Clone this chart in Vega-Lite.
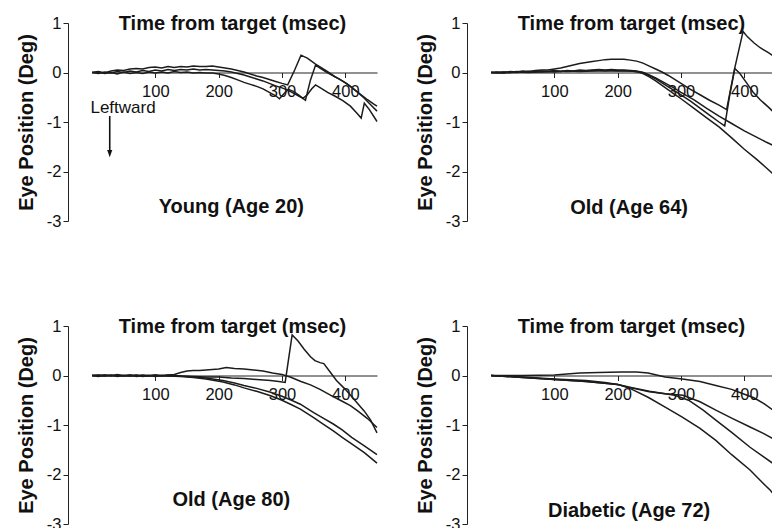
{
  "$schema": "https://vega.github.io/schema/vega-lite/v6.json",
  "background": "white",
  "padding": {"left": 16, "top": 13, "right": 0, "bottom": 0},
  "bounds": "flush",
  "columns": 2,
  "spacing": {"row": 105, "column": 114},
  "config": {
    "view": {"stroke": null},
    "font": "Liberation Sans",
    "axisX": {
      "offset": -148.5, "grid": false, "domainColor": "#222", "tickColor": "#222", "tickSize": 5,
      "labelFontSize": 16.5, "labelPadding": 6, "labelColor": "#111", "labelFont": "Liberation Sans",
      "titleY": -43, "titleX": 140, "titleBaseline": "alphabetic",
      "titleAlign": "center", "titleFontSize": 20, "titleFontWeight": "bold", "titleColor": "#111", "titleFont": "Liberation Sans"
    },
    "axisY": {
      "offset": 24, "grid": false, "domainColor": "#222", "tickColor": "#222", "tickSize": 5,
      "labelFontSize": 16.5, "labelPadding": 2, "labelColor": "#111", "labelFont": "Liberation Sans",
      "titlePadding": 10, "titleFontSize": 20, "titleFontWeight": "bold", "titleColor": "#111", "titleFont": "Liberation Sans"
    }
  },
  "datasets": {
    "labels": [
      {"p": "A", "label": "Young (Age 20)"},
      {"p": "B", "label": "Old (Age 64)"},
      {"p": "C", "label": "Old (Age 80)"},
      {"p": "D", "label": "Diabetic (Age 72)"},
      {"p": "A", "label": "Leftward"}
    ],
    "traces": [
      {"p":"A","s":1,"t":0,"v":0},{"p":"A","s":1,"t":10,"v":0.02},{"p":"A","s":1,"t":20,"v":-0.01},{"p":"A","s":1,"t":30,"v":0.03},{"p":"A","s":1,"t":40,"v":0.05},{"p":"A","s":1,"t":50,"v":0.04},{"p":"A","s":1,"t":60,"v":0.07},{"p":"A","s":1,"t":70,"v":0.08},{"p":"A","s":1,"t":80,"v":0.07},{"p":"A","s":1,"t":90,"v":0.1},{"p":"A","s":1,"t":100,"v":0.11},{"p":"A","s":1,"t":110,"v":0.09},{"p":"A","s":1,"t":120,"v":0.12},{"p":"A","s":1,"t":130,"v":0.1},{"p":"A","s":1,"t":140,"v":0.12},{"p":"A","s":1,"t":150,"v":0.11},{"p":"A","s":1,"t":160,"v":0.13},{"p":"A","s":1,"t":170,"v":0.12},{"p":"A","s":1,"t":180,"v":0.12},{"p":"A","s":1,"t":190,"v":0.13},{"p":"A","s":1,"t":200,"v":0.11},{"p":"A","s":1,"t":210,"v":0.09},{"p":"A","s":1,"t":220,"v":0.07},{"p":"A","s":1,"t":230,"v":0.04},{"p":"A","s":1,"t":240,"v":0.01},{"p":"A","s":1,"t":250,"v":-0.03},{"p":"A","s":1,"t":260,"v":-0.07},{"p":"A","s":1,"t":270,"v":-0.1},{"p":"A","s":1,"t":280,"v":-0.14},{"p":"A","s":1,"t":290,"v":-0.18},{"p":"A","s":1,"t":300,"v":-0.22},{"p":"A","s":1,"t":309,"v":-0.25},{"p":"A","s":1,"t":320,"v":0.05},{"p":"A","s":1,"t":330,"v":0.35},{"p":"A","s":1,"t":340,"v":0.29},{"p":"A","s":1,"t":353,"v":0.17},{"p":"A","s":1,"t":362,"v":0.1},{"p":"A","s":1,"t":372,"v":0.02},{"p":"A","s":1,"t":384,"v":-0.09},{"p":"A","s":1,"t":394,"v":-0.16},{"p":"A","s":1,"t":403,"v":-0.23},{"p":"A","s":1,"t":413,"v":-0.33},{"p":"A","s":1,"t":424,"v":-0.44},{"p":"A","s":1,"t":435,"v":-0.55},{"p":"A","s":1,"t":445,"v":-0.64},{"p":"A","s":1,"t":450,"v":-0.68},
      {"p":"A","s":2,"t":0,"v":0},{"p":"A","s":2,"t":10,"v":-0.02},{"p":"A","s":2,"t":20,"v":0.01},{"p":"A","s":2,"t":30,"v":-0.01},{"p":"A","s":2,"t":40,"v":0.02},{"p":"A","s":2,"t":50,"v":0},{"p":"A","s":2,"t":60,"v":0.03},{"p":"A","s":2,"t":70,"v":0.01},{"p":"A","s":2,"t":80,"v":0.04},{"p":"A","s":2,"t":90,"v":0.02},{"p":"A","s":2,"t":100,"v":0.05},{"p":"A","s":2,"t":110,"v":0.03},{"p":"A","s":2,"t":120,"v":0.06},{"p":"A","s":2,"t":130,"v":0.04},{"p":"A","s":2,"t":140,"v":0.06},{"p":"A","s":2,"t":150,"v":0.05},{"p":"A","s":2,"t":160,"v":0.07},{"p":"A","s":2,"t":170,"v":0.05},{"p":"A","s":2,"t":180,"v":0.06},{"p":"A","s":2,"t":190,"v":0.05},{"p":"A","s":2,"t":200,"v":0.04},{"p":"A","s":2,"t":210,"v":0.03},{"p":"A","s":2,"t":220,"v":0.01},{"p":"A","s":2,"t":230,"v":-0.02},{"p":"A","s":2,"t":240,"v":-0.05},{"p":"A","s":2,"t":250,"v":-0.09},{"p":"A","s":2,"t":260,"v":-0.13},{"p":"A","s":2,"t":270,"v":-0.17},{"p":"A","s":2,"t":280,"v":-0.22},{"p":"A","s":2,"t":290,"v":-0.27},{"p":"A","s":2,"t":300,"v":-0.31},{"p":"A","s":2,"t":310,"v":-0.36},{"p":"A","s":2,"t":320,"v":-0.43},{"p":"A","s":2,"t":330,"v":-0.5},{"p":"A","s":2,"t":337,"v":-0.56},{"p":"A","s":2,"t":345,"v":-0.15},{"p":"A","s":2,"t":353,"v":0.15},{"p":"A","s":2,"t":360,"v":0.09},{"p":"A","s":2,"t":370,"v":0.01},{"p":"A","s":2,"t":380,"v":-0.06},{"p":"A","s":2,"t":390,"v":-0.13},{"p":"A","s":2,"t":400,"v":-0.21},{"p":"A","s":2,"t":410,"v":-0.3},{"p":"A","s":2,"t":420,"v":-0.41},{"p":"A","s":2,"t":430,"v":-0.52},{"p":"A","s":2,"t":440,"v":-0.65},{"p":"A","s":2,"t":450,"v":-0.78},
      {"p":"A","s":3,"t":0,"v":0},{"p":"A","s":3,"t":10,"v":0.01},{"p":"A","s":3,"t":20,"v":-0.02},{"p":"A","s":3,"t":30,"v":0},{"p":"A","s":3,"t":40,"v":-0.03},{"p":"A","s":3,"t":50,"v":0.01},{"p":"A","s":3,"t":60,"v":-0.02},{"p":"A","s":3,"t":70,"v":0},{"p":"A","s":3,"t":80,"v":-0.02},{"p":"A","s":3,"t":90,"v":0.01},{"p":"A","s":3,"t":100,"v":-0.01},{"p":"A","s":3,"t":110,"v":0.01},{"p":"A","s":3,"t":120,"v":-0.01},{"p":"A","s":3,"t":130,"v":0.02},{"p":"A","s":3,"t":140,"v":0},{"p":"A","s":3,"t":150,"v":0.01},{"p":"A","s":3,"t":160,"v":-0.01},{"p":"A","s":3,"t":170,"v":0},{"p":"A","s":3,"t":180,"v":-0.01},{"p":"A","s":3,"t":190,"v":-0.01},{"p":"A","s":3,"t":200,"v":-0.03},{"p":"A","s":3,"t":210,"v":-0.06},{"p":"A","s":3,"t":220,"v":-0.1},{"p":"A","s":3,"t":230,"v":-0.15},{"p":"A","s":3,"t":240,"v":-0.2},{"p":"A","s":3,"t":250,"v":-0.24},{"p":"A","s":3,"t":260,"v":-0.28},{"p":"A","s":3,"t":270,"v":-0.33},{"p":"A","s":3,"t":280,"v":-0.4},{"p":"A","s":3,"t":290,"v":-0.47},{"p":"A","s":3,"t":296,"v":-0.53},{"p":"A","s":3,"t":303,"v":-0.43},{"p":"A","s":3,"t":310,"v":-0.34},{"p":"A","s":3,"t":318,"v":-0.38},{"p":"A","s":3,"t":326,"v":-0.45},{"p":"A","s":3,"t":333,"v":-0.52},{"p":"A","s":3,"t":340,"v":-0.45},{"p":"A","s":3,"t":347,"v":-0.33},{"p":"A","s":3,"t":353,"v":-0.25},{"p":"A","s":3,"t":362,"v":-0.32},{"p":"A","s":3,"t":372,"v":-0.4},{"p":"A","s":3,"t":384,"v":-0.48},{"p":"A","s":3,"t":396,"v":-0.57},{"p":"A","s":3,"t":408,"v":-0.68},{"p":"A","s":3,"t":418,"v":-0.82},{"p":"A","s":3,"t":425,"v":-0.92},{"p":"A","s":3,"t":430,"v":-0.62},{"p":"A","s":3,"t":438,"v":-0.75},{"p":"A","s":3,"t":450,"v":-0.99},

      {"p":"B","s":1,"t":0,"v":0},{"p":"B","s":1,"t":10,"v":0.01},{"p":"B","s":1,"t":20,"v":-0.01},{"p":"B","s":1,"t":30,"v":0.02},{"p":"B","s":1,"t":40,"v":0.01},{"p":"B","s":1,"t":50,"v":0.03},{"p":"B","s":1,"t":60,"v":0.02},{"p":"B","s":1,"t":70,"v":0.04},{"p":"B","s":1,"t":80,"v":0.05},{"p":"B","s":1,"t":90,"v":0.05},{"p":"B","s":1,"t":100,"v":0.07},{"p":"B","s":1,"t":110,"v":0.09},{"p":"B","s":1,"t":120,"v":0.12},{"p":"B","s":1,"t":130,"v":0.15},{"p":"B","s":1,"t":140,"v":0.18},{"p":"B","s":1,"t":150,"v":0.2},{"p":"B","s":1,"t":160,"v":0.22},{"p":"B","s":1,"t":170,"v":0.24},{"p":"B","s":1,"t":180,"v":0.26},{"p":"B","s":1,"t":190,"v":0.27},{"p":"B","s":1,"t":200,"v":0.27},{"p":"B","s":1,"t":210,"v":0.27},{"p":"B","s":1,"t":220,"v":0.25},{"p":"B","s":1,"t":230,"v":0.23},{"p":"B","s":1,"t":240,"v":0.19},{"p":"B","s":1,"t":250,"v":0.13},{"p":"B","s":1,"t":260,"v":0.07},{"p":"B","s":1,"t":270,"v":0.01},{"p":"B","s":1,"t":280,"v":-0.06},{"p":"B","s":1,"t":290,"v":-0.14},{"p":"B","s":1,"t":300,"v":-0.22},{"p":"B","s":1,"t":315,"v":-0.34},{"p":"B","s":1,"t":330,"v":-0.45},{"p":"B","s":1,"t":345,"v":-0.56},{"p":"B","s":1,"t":360,"v":-0.66},{"p":"B","s":1,"t":372,"v":-0.75},{"p":"B","s":1,"t":385,"v":0.1},{"p":"B","s":1,"t":398,"v":0.83},{"p":"B","s":1,"t":405,"v":0.72},{"p":"B","s":1,"t":415,"v":0.6},{"p":"B","s":1,"t":425,"v":0.5},{"p":"B","s":1,"t":438,"v":0.4},{"p":"B","s":1,"t":450,"v":0.3},
      {"p":"B","s":2,"t":0,"v":0},{"p":"B","s":2,"t":10,"v":-0.01},{"p":"B","s":2,"t":20,"v":0.01},{"p":"B","s":2,"t":30,"v":0},{"p":"B","s":2,"t":40,"v":0.02},{"p":"B","s":2,"t":50,"v":0.01},{"p":"B","s":2,"t":60,"v":0.02},{"p":"B","s":2,"t":70,"v":0.01},{"p":"B","s":2,"t":80,"v":0.03},{"p":"B","s":2,"t":90,"v":0.02},{"p":"B","s":2,"t":100,"v":0.04},{"p":"B","s":2,"t":110,"v":0.02},{"p":"B","s":2,"t":120,"v":0.04},{"p":"B","s":2,"t":130,"v":0.03},{"p":"B","s":2,"t":140,"v":0.05},{"p":"B","s":2,"t":150,"v":0.04},{"p":"B","s":2,"t":160,"v":0.05},{"p":"B","s":2,"t":170,"v":0.06},{"p":"B","s":2,"t":180,"v":0.05},{"p":"B","s":2,"t":190,"v":0.06},{"p":"B","s":2,"t":200,"v":0.05},{"p":"B","s":2,"t":210,"v":0.05},{"p":"B","s":2,"t":220,"v":0.04},{"p":"B","s":2,"t":230,"v":0.03},{"p":"B","s":2,"t":240,"v":0},{"p":"B","s":2,"t":250,"v":-0.06},{"p":"B","s":2,"t":260,"v":-0.13},{"p":"B","s":2,"t":270,"v":-0.21},{"p":"B","s":2,"t":280,"v":-0.29},{"p":"B","s":2,"t":290,"v":-0.37},{"p":"B","s":2,"t":300,"v":-0.45},{"p":"B","s":2,"t":315,"v":-0.58},{"p":"B","s":2,"t":330,"v":-0.72},{"p":"B","s":2,"t":345,"v":-0.86},{"p":"B","s":2,"t":360,"v":-1.0},{"p":"B","s":2,"t":369,"v":-1.08},{"p":"B","s":2,"t":377,"v":-0.45},{"p":"B","s":2,"t":385,"v":0.08},{"p":"B","s":2,"t":393,"v":-0.02},{"p":"B","s":2,"t":403,"v":-0.2},{"p":"B","s":2,"t":414,"v":-0.4},{"p":"B","s":2,"t":425,"v":-0.55},{"p":"B","s":2,"t":438,"v":-0.7},{"p":"B","s":2,"t":450,"v":-0.85},
      {"p":"B","s":3,"t":0,"v":0},{"p":"B","s":3,"t":20,"v":0.01},{"p":"B","s":3,"t":40,"v":0},{"p":"B","s":3,"t":60,"v":0.02},{"p":"B","s":3,"t":80,"v":0.01},{"p":"B","s":3,"t":100,"v":0.03},{"p":"B","s":3,"t":120,"v":0.02},{"p":"B","s":3,"t":140,"v":0.03},{"p":"B","s":3,"t":160,"v":0.04},{"p":"B","s":3,"t":180,"v":0.03},{"p":"B","s":3,"t":200,"v":0.04},{"p":"B","s":3,"t":220,"v":0.03},{"p":"B","s":3,"t":240,"v":0},{"p":"B","s":3,"t":250,"v":-0.05},{"p":"B","s":3,"t":260,"v":-0.11},{"p":"B","s":3,"t":270,"v":-0.18},{"p":"B","s":3,"t":280,"v":-0.25},{"p":"B","s":3,"t":290,"v":-0.32},{"p":"B","s":3,"t":300,"v":-0.4},{"p":"B","s":3,"t":320,"v":-0.55},{"p":"B","s":3,"t":340,"v":-0.72},{"p":"B","s":3,"t":360,"v":-0.88},{"p":"B","s":3,"t":380,"v":-1.03},{"p":"B","s":3,"t":400,"v":-1.18},{"p":"B","s":3,"t":420,"v":-1.31},{"p":"B","s":3,"t":435,"v":-1.41},{"p":"B","s":3,"t":450,"v":-1.5},
      {"p":"B","s":4,"t":0,"v":0},{"p":"B","s":4,"t":20,"v":-0.01},{"p":"B","s":4,"t":40,"v":0.01},{"p":"B","s":4,"t":60,"v":0},{"p":"B","s":4,"t":80,"v":0.02},{"p":"B","s":4,"t":100,"v":0.01},{"p":"B","s":4,"t":120,"v":0.03},{"p":"B","s":4,"t":140,"v":0.02},{"p":"B","s":4,"t":160,"v":0.03},{"p":"B","s":4,"t":180,"v":0.04},{"p":"B","s":4,"t":200,"v":0.03},{"p":"B","s":4,"t":220,"v":0.03},{"p":"B","s":4,"t":230,"v":0.02},{"p":"B","s":4,"t":240,"v":-0.02},{"p":"B","s":4,"t":250,"v":-0.09},{"p":"B","s":4,"t":260,"v":-0.17},{"p":"B","s":4,"t":270,"v":-0.26},{"p":"B","s":4,"t":280,"v":-0.35},{"p":"B","s":4,"t":290,"v":-0.44},{"p":"B","s":4,"t":300,"v":-0.53},{"p":"B","s":4,"t":320,"v":-0.72},{"p":"B","s":4,"t":340,"v":-0.91},{"p":"B","s":4,"t":360,"v":-1.1},{"p":"B","s":4,"t":380,"v":-1.32},{"p":"B","s":4,"t":400,"v":-1.55},{"p":"B","s":4,"t":420,"v":-1.76},{"p":"B","s":4,"t":435,"v":-1.93},{"p":"B","s":4,"t":450,"v":-2.1},

      {"p":"C","s":1,"t":0,"v":0},{"p":"C","s":1,"t":10,"v":-0.02},{"p":"C","s":1,"t":20,"v":0.01},{"p":"C","s":1,"t":30,"v":-0.01},{"p":"C","s":1,"t":40,"v":0.02},{"p":"C","s":1,"t":50,"v":-0.01},{"p":"C","s":1,"t":60,"v":0.01},{"p":"C","s":1,"t":70,"v":-0.02},{"p":"C","s":1,"t":80,"v":0},{"p":"C","s":1,"t":90,"v":-0.01},{"p":"C","s":1,"t":100,"v":0.01},{"p":"C","s":1,"t":110,"v":-0.01},{"p":"C","s":1,"t":120,"v":0.01},{"p":"C","s":1,"t":130,"v":0.02},{"p":"C","s":1,"t":140,"v":0.06},{"p":"C","s":1,"t":150,"v":0.09},{"p":"C","s":1,"t":160,"v":0.1},{"p":"C","s":1,"t":170,"v":0.1},{"p":"C","s":1,"t":180,"v":0.11},{"p":"C","s":1,"t":190,"v":0.12},{"p":"C","s":1,"t":200,"v":0.13},{"p":"C","s":1,"t":212,"v":0.16},{"p":"C","s":1,"t":225,"v":0.14},{"p":"C","s":1,"t":240,"v":0.13},{"p":"C","s":1,"t":255,"v":0.11},{"p":"C","s":1,"t":270,"v":0.09},{"p":"C","s":1,"t":285,"v":0.05},{"p":"C","s":1,"t":300,"v":0.02},{"p":"C","s":1,"t":313,"v":-0.03},{"p":"C","s":1,"t":330,"v":-0.12},{"p":"C","s":1,"t":345,"v":-0.19},{"p":"C","s":1,"t":360,"v":-0.28},{"p":"C","s":1,"t":380,"v":-0.42},{"p":"C","s":1,"t":395,"v":-0.52},{"p":"C","s":1,"t":408,"v":-0.61},{"p":"C","s":1,"t":420,"v":-0.72},{"p":"C","s":1,"t":435,"v":-0.87},{"p":"C","s":1,"t":450,"v":-1.05},
      {"p":"C","s":2,"t":0,"v":0},{"p":"C","s":2,"t":10,"v":0.01},{"p":"C","s":2,"t":20,"v":-0.01},{"p":"C","s":2,"t":30,"v":0.01},{"p":"C","s":2,"t":40,"v":-0.02},{"p":"C","s":2,"t":50,"v":0},{"p":"C","s":2,"t":60,"v":-0.01},{"p":"C","s":2,"t":70,"v":0.01},{"p":"C","s":2,"t":80,"v":-0.02},{"p":"C","s":2,"t":90,"v":0},{"p":"C","s":2,"t":100,"v":-0.02},{"p":"C","s":2,"t":110,"v":0},{"p":"C","s":2,"t":120,"v":-0.01},{"p":"C","s":2,"t":130,"v":0},{"p":"C","s":2,"t":140,"v":-0.01},{"p":"C","s":2,"t":160,"v":-0.02},{"p":"C","s":2,"t":180,"v":-0.03},{"p":"C","s":2,"t":200,"v":-0.03},{"p":"C","s":2,"t":220,"v":-0.05},{"p":"C","s":2,"t":240,"v":-0.06},{"p":"C","s":2,"t":260,"v":-0.08},{"p":"C","s":2,"t":282,"v":-0.1},{"p":"C","s":2,"t":295,"v":-0.12},{"p":"C","s":2,"t":305,"v":-0.14},{"p":"C","s":2,"t":316,"v":0.82},{"p":"C","s":2,"t":325,"v":0.7},{"p":"C","s":2,"t":335,"v":0.53},{"p":"C","s":2,"t":345,"v":0.38},{"p":"C","s":2,"t":352,"v":0.3},{"p":"C","s":2,"t":360,"v":0.26},{"p":"C","s":2,"t":366,"v":0.24},{"p":"C","s":2,"t":376,"v":0.07},{"p":"C","s":2,"t":386,"v":-0.1},{"p":"C","s":2,"t":400,"v":-0.28},{"p":"C","s":2,"t":415,"v":-0.5},{"p":"C","s":2,"t":430,"v":-0.72},{"p":"C","s":2,"t":440,"v":-0.9},{"p":"C","s":2,"t":450,"v":-1.16},
      {"p":"C","s":3,"t":0,"v":0},{"p":"C","s":3,"t":20,"v":-0.01},{"p":"C","s":3,"t":40,"v":0.01},{"p":"C","s":3,"t":60,"v":-0.01},{"p":"C","s":3,"t":80,"v":0.01},{"p":"C","s":3,"t":100,"v":-0.01},{"p":"C","s":3,"t":120,"v":0.01},{"p":"C","s":3,"t":140,"v":-0.01},{"p":"C","s":3,"t":160,"v":-0.03},{"p":"C","s":3,"t":180,"v":-0.05},{"p":"C","s":3,"t":207,"v":-0.1},{"p":"C","s":3,"t":225,"v":-0.15},{"p":"C","s":3,"t":240,"v":-0.2},{"p":"C","s":3,"t":260,"v":-0.26},{"p":"C","s":3,"t":282,"v":-0.34},{"p":"C","s":3,"t":300,"v":-0.42},{"p":"C","s":3,"t":315,"v":-0.5},{"p":"C","s":3,"t":329,"v":-0.58},{"p":"C","s":3,"t":350,"v":-0.75},{"p":"C","s":3,"t":365,"v":-0.86},{"p":"C","s":3,"t":381,"v":-0.98},{"p":"C","s":3,"t":395,"v":-1.1},{"p":"C","s":3,"t":410,"v":-1.25},{"p":"C","s":3,"t":430,"v":-1.42},{"p":"C","s":3,"t":450,"v":-1.6},
      {"p":"C","s":4,"t":0,"v":0},{"p":"C","s":4,"t":20,"v":0.01},{"p":"C","s":4,"t":40,"v":-0.01},{"p":"C","s":4,"t":60,"v":0.01},{"p":"C","s":4,"t":80,"v":-0.01},{"p":"C","s":4,"t":100,"v":0.01},{"p":"C","s":4,"t":120,"v":-0.01},{"p":"C","s":4,"t":140,"v":-0.02},{"p":"C","s":4,"t":160,"v":-0.04},{"p":"C","s":4,"t":180,"v":-0.07},{"p":"C","s":4,"t":207,"v":-0.13},{"p":"C","s":4,"t":225,"v":-0.19},{"p":"C","s":4,"t":240,"v":-0.25},{"p":"C","s":4,"t":260,"v":-0.32},{"p":"C","s":4,"t":282,"v":-0.41},{"p":"C","s":4,"t":300,"v":-0.5},{"p":"C","s":4,"t":315,"v":-0.59},{"p":"C","s":4,"t":329,"v":-0.68},{"p":"C","s":4,"t":350,"v":-0.85},{"p":"C","s":4,"t":365,"v":-0.98},{"p":"C","s":4,"t":381,"v":-1.12},{"p":"C","s":4,"t":395,"v":-1.25},{"p":"C","s":4,"t":410,"v":-1.38},{"p":"C","s":4,"t":430,"v":-1.56},{"p":"C","s":4,"t":450,"v":-1.77},

      {"p":"D","s":1,"t":0,"v":0},{"p":"D","s":1,"t":50,"v":0},{"p":"D","s":1,"t":100,"v":0.01},{"p":"D","s":1,"t":140,"v":0.05},{"p":"D","s":1,"t":170,"v":0.06},{"p":"D","s":1,"t":205,"v":0.07},{"p":"D","s":1,"t":230,"v":0.07},{"p":"D","s":1,"t":248,"v":0.05},{"p":"D","s":1,"t":275,"v":-0.03},{"p":"D","s":1,"t":302,"v":-0.07},{"p":"D","s":1,"t":330,"v":-0.12},{"p":"D","s":1,"t":355,"v":-0.2},{"p":"D","s":1,"t":380,"v":-0.28},{"p":"D","s":1,"t":398,"v":-0.37},{"p":"D","s":1,"t":415,"v":-0.45},{"p":"D","s":1,"t":431,"v":-0.57},{"p":"D","s":1,"t":450,"v":-0.74},
      {"p":"D","s":2,"t":0,"v":0},{"p":"D","s":2,"t":50,"v":-0.03},{"p":"D","s":2,"t":100,"v":-0.07},{"p":"D","s":2,"t":150,"v":-0.1},{"p":"D","s":2,"t":180,"v":-0.14},{"p":"D","s":2,"t":200,"v":-0.18},{"p":"D","s":2,"t":221,"v":-0.24},{"p":"D","s":2,"t":250,"v":-0.32},{"p":"D","s":2,"t":275,"v":-0.37},{"p":"D","s":2,"t":303,"v":-0.4},{"p":"D","s":2,"t":330,"v":-0.53},{"p":"D","s":2,"t":355,"v":-0.7},{"p":"D","s":2,"t":380,"v":-0.86},{"p":"D","s":2,"t":409,"v":-1.04},{"p":"D","s":2,"t":430,"v":-1.17},{"p":"D","s":2,"t":450,"v":-1.31},
      {"p":"D","s":3,"t":0,"v":0},{"p":"D","s":3,"t":50,"v":-0.04},{"p":"D","s":3,"t":100,"v":-0.08},{"p":"D","s":3,"t":150,"v":-0.12},{"p":"D","s":3,"t":200,"v":-0.18},{"p":"D","s":3,"t":221,"v":-0.25},{"p":"D","s":3,"t":250,"v":-0.33},{"p":"D","s":3,"t":275,"v":-0.37},{"p":"D","s":3,"t":290,"v":-0.4},{"p":"D","s":3,"t":312,"v":-0.5},{"p":"D","s":3,"t":335,"v":-0.7},{"p":"D","s":3,"t":355,"v":-0.9},{"p":"D","s":3,"t":380,"v":-1.15},{"p":"D","s":3,"t":409,"v":-1.45},{"p":"D","s":3,"t":430,"v":-1.64},{"p":"D","s":3,"t":450,"v":-1.82},
      {"p":"D","s":4,"t":0,"v":0},{"p":"D","s":4,"t":50,"v":-0.04},{"p":"D","s":4,"t":100,"v":-0.08},{"p":"D","s":4,"t":150,"v":-0.12},{"p":"D","s":4,"t":200,"v":-0.18},{"p":"D","s":4,"t":221,"v":-0.27},{"p":"D","s":4,"t":248,"v":-0.44},{"p":"D","s":4,"t":275,"v":-0.64},{"p":"D","s":4,"t":302,"v":-0.84},{"p":"D","s":4,"t":330,"v":-1.07},{"p":"D","s":4,"t":355,"v":-1.31},{"p":"D","s":4,"t":380,"v":-1.6},{"p":"D","s":4,"t":409,"v":-1.91},{"p":"D","s":4,"t":430,"v":-2.18},{"p":"D","s":4,"t":441,"v":-2.32},{"p":"D","s":4,"t":450,"v":-2.46}
    ]
  },
  "concat": [
    {
      "width": 285, "height": 198,
      "layer": [
        {
          "data": {"name": "traces"},
          "transform": [{"filter": "datum.p === 'A'"}],
          "mark": {"type": "line", "color": "#1c1c1c", "strokeWidth": 1.5},
          "encoding": {
            "x": {"field": "t", "type": "quantitative", "scale": {"domain": [0, 450], "nice": false},
                  "axis": {"title": "Time from target (msec)", "values": [100, 200, 300, 400]}},
            "y": {"field": "v", "type": "quantitative", "scale": {"domain": [-3, 1], "nice": false},
                  "axis": {"title": "Eye Position (Deg)", "values": [-3, -2, -1, 0, 1], "labelExpr": "'' + datum.value"}},
            "detail": {"field": "s"}
          }
        },
        {
          "data": {"name": "labels"},
          "transform": [{"filter": "datum.p === 'A' && datum.label !== 'Leftward'"}],
          "mark": {"type": "text", "fontSize": 20, "fontWeight": "bold", "color": "#111", "baseline": "alphabetic", "align": "center"},
          "encoding": {"x": {"datum": 220}, "y": {"datum": -2.83}, "text": {"field": "label"}}
        },
        {
          "data": {"name": "labels"},
          "transform": [{"filter": "datum.label === 'Leftward'"}],
          "mark": {"type": "text", "fontSize": 17, "color": "#111", "baseline": "middle", "align": "center"},
          "encoding": {"x": {"datum": 49}, "y": {"datum": -0.72}, "text": {"field": "label"}}
        },
        {
          "data": {"name": "labels"},
          "transform": [{"filter": "datum.label === 'Leftward'"}],
          "mark": {"type": "rule", "color": "#111", "strokeWidth": 1.6},
          "encoding": {"x": {"datum": 28}, "y": {"datum": -0.88}, "y2": {"datum": -1.6}}
        },
        {
          "data": {"name": "labels"},
          "transform": [{"filter": "datum.label === 'Leftward'"}],
          "mark": {"type": "point", "shape": "M -0.42 -0.6 L 0.42 -0.6 L 0 0.6 Z", "filled": true, "color": "#111", "size": 150, "opacity": 1},
          "encoding": {"x": {"datum": 28}, "y": {"datum": -1.64}}
        }
      ]
    },
    {
      "width": 285, "height": 198,
      "layer": [
        {
          "data": {"name": "traces"},
          "transform": [{"filter": "datum.p === 'B'"}],
          "mark": {"type": "line", "color": "#1c1c1c", "strokeWidth": 1.5},
          "encoding": {
            "x": {"field": "t", "type": "quantitative", "scale": {"domain": [0, 450], "nice": false},
                  "axis": {"title": "Time from target (msec)", "values": [100, 200, 300, 400]}},
            "y": {"field": "v", "type": "quantitative", "scale": {"domain": [-3, 1], "nice": false},
                  "axis": {"title": "Eye Position (Deg)", "values": [-3, -2, -1, 0, 1], "labelExpr": "'' + datum.value"}},
            "detail": {"field": "s"}
          }
        },
        {
          "data": {"name": "labels"},
          "transform": [{"filter": "datum.p === 'B'"}],
          "mark": {"type": "text", "fontSize": 20, "fontWeight": "bold", "color": "#111", "baseline": "alphabetic", "align": "center"},
          "encoding": {"x": {"datum": 218}, "y": {"datum": -2.85}, "text": {"field": "label"}}
        }
      ]
    },
    {
      "width": 285, "height": 198,
      "layer": [
        {
          "data": {"name": "traces"},
          "transform": [{"filter": "datum.p === 'C'"}],
          "mark": {"type": "line", "color": "#1c1c1c", "strokeWidth": 1.5},
          "encoding": {
            "x": {"field": "t", "type": "quantitative", "scale": {"domain": [0, 450], "nice": false},
                  "axis": {"title": "Time from target (msec)", "values": [100, 200, 300, 400]}},
            "y": {"field": "v", "type": "quantitative", "scale": {"domain": [-3, 1], "nice": false},
                  "axis": {"title": "Eye Position (Deg)", "values": [-3, -2, -1, 0, 1], "labelExpr": "'' + datum.value"}},
            "detail": {"field": "s"}
          }
        },
        {
          "data": {"name": "labels"},
          "transform": [{"filter": "datum.p === 'C'"}],
          "mark": {"type": "text", "fontSize": 20, "fontWeight": "bold", "color": "#111", "baseline": "alphabetic", "align": "center"},
          "encoding": {"x": {"datum": 220}, "y": {"datum": -2.63}, "text": {"field": "label"}}
        }
      ]
    },
    {
      "width": 285, "height": 198,
      "layer": [
        {
          "data": {"name": "traces"},
          "transform": [{"filter": "datum.p === 'D'"}],
          "mark": {"type": "line", "color": "#1c1c1c", "strokeWidth": 1.5},
          "encoding": {
            "x": {"field": "t", "type": "quantitative", "scale": {"domain": [0, 450], "nice": false},
                  "axis": {"title": "Time from target (msec)", "values": [100, 200, 300, 400]}},
            "y": {"field": "v", "type": "quantitative", "scale": {"domain": [-3, 1], "nice": false},
                  "axis": {"title": "Eye Position (Deg)", "values": [-3, -2, -1, 0, 1], "labelExpr": "'' + datum.value"}},
            "detail": {"field": "s"}
          }
        },
        {
          "data": {"name": "labels"},
          "transform": [{"filter": "datum.p === 'D'"}],
          "mark": {"type": "text", "fontSize": 20, "fontWeight": "bold", "color": "#111", "baseline": "alphabetic", "align": "center"},
          "encoding": {"x": {"datum": 218}, "y": {"datum": -2.85}, "text": {"field": "label"}}
        }
      ]
    }
  ]
}
